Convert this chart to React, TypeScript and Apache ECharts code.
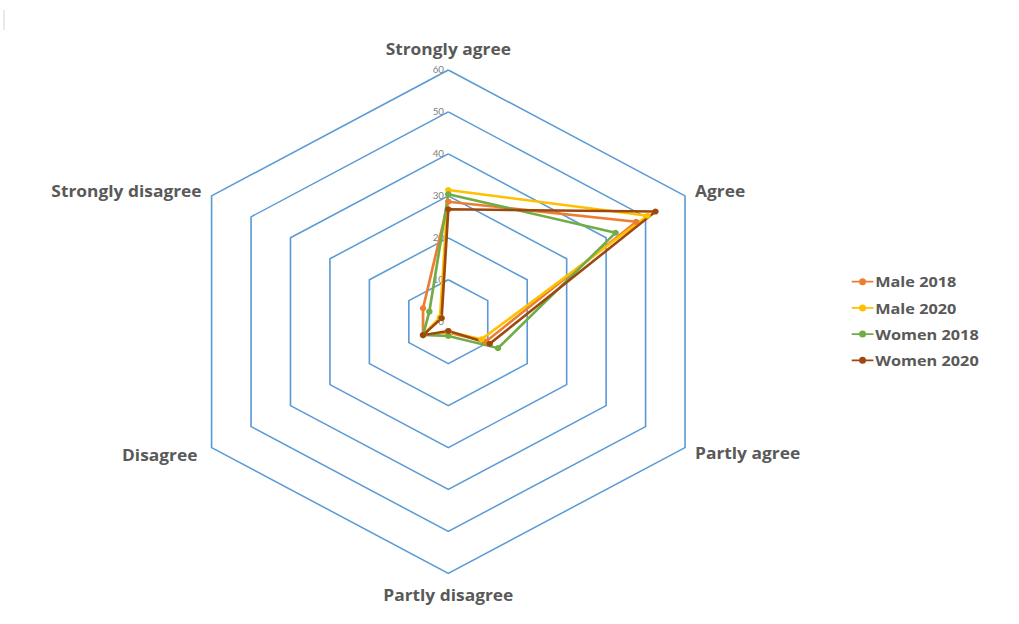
import { useEffect, useRef } from "react";
import * as echarts from "echarts";

// ---- data ----
const categories = ["Strongly agree", "Agree", "Partly agree", "Partly disagree", "Disagree", "Strongly disagree"];
const seriesNames = ["Male 2018", "Male 2020", "Women 2018", "Women 2020"];
const male2018 = [28.6, 47.6, 9.5, 2.6, 6.4, 6.4];
const male2020 = [31.4, 50.5, 8.4, 2.4, 6.4, 2.1];
const women2018 = [30.4, 42.4, 12.6, 3.4, 6.4, 4.8];
const women2020 = [26.8, 52.5, 10.5, 2.2, 6.4, 1.7];
const axisMin = 0;
const axisMax = 60;
const axisSteps = 6;

// ---- styling / layout ----
const colors = ["#ED7D31", "#FFC000", "#70AD47", "#9E480E"];
const STRETCH = 1.086; // reference hexagon is wider than a regular one
const CX = 448.3;
const CY = 321.7;
const R = 251.7;
// clockwise placement (ECharts places indicators counter-clockwise)
const ORDER = [0, 5, 4, 3, 2, 1];
const NAME_GAPS = [13.5, 10.6, 15, 13.5, 10.6, 10.6]; // by ECharts indicator slot
const FONT = "'Open Sans', Lato, sans-serif";

export default function App() {
  const ref = useRef<HTMLDivElement>(null);
  useEffect(() => {
    const chart = echarts.init(ref.current!, null, { renderer: "svg" });
    const allSeries = [male2018, male2020, women2018, women2020];
    const indicator = ORDER.map((ci, k) => {
      const ind: any = { name: categories[ci], min: axisMin, max: axisMax, nameGap: NAME_GAPS[k] };
      if (k === 0) {
        ind.axisLabel = { show: true, fontSize: 9, color: "#808080", margin: 4, fontFamily: "Lato, sans-serif" };
      }
      return ind;
    });
    const legendIcon =
      "path://M0,2.6 H20 V4.4 H0 Z M10,0 A3.2,3.5 0 1,1 10,7 A3.2,3.5 0 1,1 10,0 Z";
    chart.setOption({
      animation: false,
      backgroundColor: "#ffffff",
      textStyle: { fontFamily: FONT },
      legend: {
        orient: "vertical",
        left: CX + (851.7 - CX) / STRETCH,
        top: 274.2,
        padding: 0,
        itemWidth: 20,
        itemHeight: 7,
        itemGap: 11.2,
        icon: legendIcon,
        data: seriesNames,
        textStyle: {
          color: "#595959",
          fontSize: 15,
          fontWeight: "bold",
          fontFamily: FONT,
          padding: [0, 0, 0, -3.4],
        },
      },
      radar: {
        center: [CX, CY],
        radius: R,
        startAngle: 90,
        shape: "polygon",
        splitNumber: axisSteps,
        axisName: { color: "#595959", fontSize: 16, fontWeight: "bold", fontFamily: FONT },
        axisLine: { show: false },
        axisTick: { show: false },
        axisLabel: { show: false },
        splitArea: { show: false },
        splitLine: { lineStyle: { color: "#5B9BD5", width: 1.5 } },
        indicator,
      },
      graphic: [
        {
          type: "line",
          shape: { x1: CX + (4 - CX) / STRETCH, y1: 10, x2: CX + (4 - CX) / STRETCH, y2: 30 },
          style: { stroke: "#D9D9D9", lineWidth: 1 },
        },
      ],
      series: [
        {
          type: "radar",
          data: allSeries.map((vals, i) => ({
            name: seriesNames[i],
            value: ORDER.map((ci) => vals[ci]),
            symbol: "circle",
            symbolSize: 6,
            itemStyle: { color: colors[i] },
            lineStyle: { color: colors[i], width: 2.5 },
          })),
        },
      ],
    });
    return () => chart.dispose();
  }, []);
  return (
    <div
      style={{
        position: "absolute",
        left: 0,
        top: 0,
        width: 1019,
        height: 624,
        overflow: "hidden",
        background: "#fff",
      }}
    >
      <div
        ref={ref}
        style={{
          width: 1019,
          height: 624,
          transform: `scaleX(${STRETCH})`,
          transformOrigin: `${CX}px 0px`,
        }}
      />
    </div>
  );
}
